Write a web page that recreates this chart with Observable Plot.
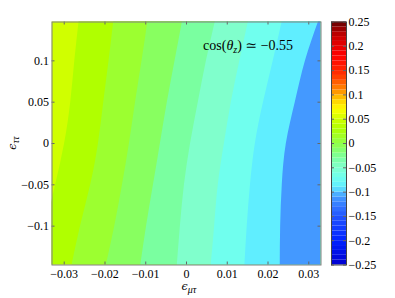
<!DOCTYPE html>
<html><head><meta charset="utf-8">
<script src="https://cdn.jsdelivr.net/npm/d3@7"></script>
<script src="https://cdn.jsdelivr.net/npm/@observablehq/plot@0.6"></script>
<style>
body{margin:0;background:#fff;}
#wrap{position:relative;width:395px;height:298px;}
#wrap svg{position:absolute;top:0;font-family:"Liberation Serif","DejaVu Serif",serif !important;}
#wrap svg text{font-family:"Liberation Serif","DejaVu Serif",serif;}
</style></head><body><div id="wrap"></div>
<script>
// y rows at which contour boundaries were read
const yLevels = [0.15, 0.1, 0.05, 0, -0.05, -0.1, -0.15];
// x position of each contour boundary at those rows (left to right)
const b1 = [-0.0263,-0.0274,-0.0284,-0.0299,-0.0321,-0.0345,-0.0370];
const b2 = [-0.0178,-0.0190,-0.0203,-0.0216,-0.0235,-0.0260,-0.0282];
const b3 = [-0.0094,-0.0109,-0.0125,-0.0140,-0.0157,-0.0176,-0.0198];
const b4 = [-0.0009,-0.0028,-0.0047,-0.0064,-0.0081,-0.0098,-0.0113];
const b5 = [0.0072,0.0049,0.0029,0.0010,-0.0005,-0.0015,-0.0023];
const b6 = [0.0153,0.0131,0.0110,0.0093,0.0078,0.0069,0.0060];
const b7 = [0.0236,0.0213,0.0189,0.0169,0.0157,0.0149,0.0143];
const b8 = [0.0326,0.0292,0.0267,0.0245,0.0235,0.0231,0.0230];
// value of each filled band, left to right
const bandValues = [0.05, 0.03, 0.01, -0.01, -0.03, -0.05, -0.07, -0.09, -0.11];
const xTicks = [-0.03,-0.02,-0.01,0,0.01,0.02,0.03];
const yTicks = [-0.1,-0.05,0,0.05,0.1];
const colorTicks = [-0.25,-0.2,-0.15,-0.1,-0.05,0,0.05,0.1,0.15,0.2,0.25];
const xDomain = [-0.033, 0.033];
const yDomain = [-0.147, 0.147];
const colorDomain = [-0.25, 0.25];
const annotation = "−0.55";

const boundaries = [b1,b2,b3,b4,b5,b6,b7,b8];
const rows = [];
bandValues.forEach((v,i)=>{
  yLevels.forEach((y,j)=>{
    rows.push({band:v, y, x1: i===0 ? xDomain[0] : boundaries[i-1][j], x2: xDomain[1]});
  });
});

const colorScale = {
  type:"linear", interpolate:"rgb",
  domain:[-0.25,-0.2,-0.15,-0.13,-0.11,-0.09,-0.07,-0.05,-0.03,-0.01,0.01,0.03,0.05,0.07,0.09,0.11,0.14,0.18,0.22,0.25],
  range:["#0000d0","#0022ff","#2255ff","#3377ff","#4499ff","#60eeff","#70ffee","#80ffcc","#7affa0","#88ff60","#9cff30","#b0ff00","#d0ff00","#ffff00","#ffcc00","#ff8800","#ff3300","#ff0000","#cc0000","#660000"]
};
const fmt = d => (d < 0 ? "−" : "") + Math.abs(d);
const FH = 298 - 21.5 - 33.5;
const FONT = '"Liberation Serif","DejaVu Serif",serif';

const main = Plot.plot({
  width:330, height:298,
  marginLeft:51.5, marginRight:9.5, marginTop:21.5, marginBottom:33.5,
  style:{fontFamily:FONT, fontSize:"12px", color:"#000", background:"transparent"},
  x:{domain:xDomain, ticks:xTicks, tickFormat:fmt, label:null, tickSize:0, tickPadding:4},
  y:{domain:yDomain, ticks:yTicks, tickFormat:fmt, label:null, tickSize:0, tickPadding:3},
  color:colorScale,
  marks:[
    Plot.areaX(rows, {y:"y", x1:"x1", x2:"x2", z:"band", fill:"band", curve:"natural", clip:true}),
    Plot.tickX(xTicks, {x:d=>d, insetTop:FH-3, stroke:"#666"}),
    Plot.tickX(xTicks, {x:d=>d, insetBottom:FH-3, stroke:"#666"}),
    Plot.tickY(yTicks, {y:d=>d, insetRight:269-3, stroke:"#666"}),
    Plot.tickY(yTicks, {y:d=>d, insetLeft:269-3, stroke:"#666"}),
    Plot.frame({stroke:"#808080"})
  ]
});

const cells = d3.range(-0.25, 0.2499, 0.01).map(v=>({y1:v, y2:v+0.01, v:v+0.005}));
const cbar = Plot.plot({
  width:64, height:298,
  marginLeft:1, marginRight:48, marginTop:21.5, marginBottom:33.5,
  style:{fontFamily:FONT, fontSize:"12px", color:"#000", background:"transparent"},
  y:{domain:colorDomain, ticks:colorTicks, tickFormat:fmt, label:null, axis:"right", tickSize:0, tickPadding:2},
  color:colorScale,
  marks:[
    Plot.rect(cells, {y1:"y1", y2:"y2", fill:"v"}),
    Plot.tickY(colorTicks, {y:d=>d, insetRight:12, stroke:"#666"}),
    Plot.tickY(colorTicks, {y:d=>d, insetLeft:12, stroke:"#666"}),
    Plot.frame({stroke:"#444"})
  ]
});

const wrap = document.getElementById("wrap");
main.style.left = "0px";
cbar.style.left = "330px";
wrap.appendChild(main);
wrap.appendChild(cbar);

const xs = main.scale("x"), ys = main.scale("y");
const svg = d3.select(main);
// annotation
const t = svg.append("text")
  .attr("x", xs.apply(0.0042)).attr("y", ys.apply(0.1127))
  .attr("text-anchor","start")
  .attr("font-size", 14).attr("fill","#000");
t.append("tspan").text("cos(");
t.append("tspan").attr("font-style","italic").text("θ");
t.append("tspan").attr("font-style","italic").attr("font-size",10).attr("dy",3).text("z");
t.append("tspan").attr("dy",-3).text(")");
t.append("tspan").text(" ≃ " + annotation);
// x label
const cx = (xs.apply(xDomain[0]) + xs.apply(xDomain[1]))/2;
const xl = svg.append("text").attr("x", cx+3).attr("y", 290).attr("text-anchor","middle").attr("font-size",14);
xl.append("tspan").attr("font-style","italic").attr("font-family","DejaVu Serif").attr("font-size",11).text("ϵ");
xl.append("tspan").attr("font-style","italic").attr("font-size",10).attr("dy",3).text("μτ");
// y label
const cy = (ys.apply(yDomain[0]) + ys.apply(yDomain[1]))/2;
const yl = svg.append("text").attr("transform",`translate(16,${cy}) rotate(-90)`).attr("text-anchor","middle").attr("font-size",14);
yl.append("tspan").attr("font-style","italic").attr("font-family","DejaVu Serif").attr("font-size",11).text("ϵ");
yl.append("tspan").attr("font-style","italic").attr("font-size",10).attr("dy",3).text("ττ");
</script></body></html>
